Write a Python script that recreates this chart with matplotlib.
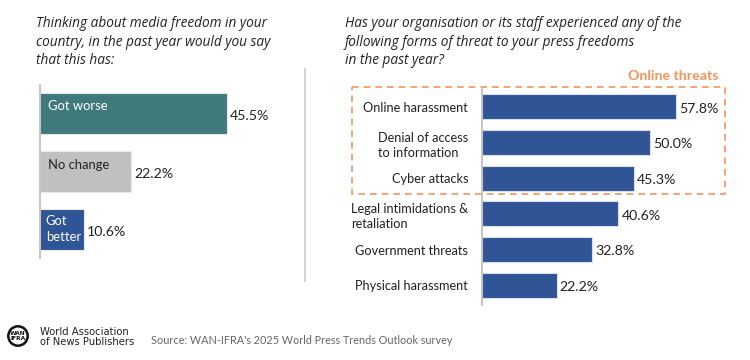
import matplotlib.pyplot as plt
from matplotlib.patches import Rectangle, Circle
from matplotlib.lines import Line2D

# left panel data
change_labels = ["Got worse", "No change", "Got\nbetter"]
change_values = [45.5, 22.2, 10.6]
change_colors = ["#3F797C", "#C0C0C0", "#2F5597"]
change_text_colors = ["white", "#222222", "white"]

# right panel data
threat_labels = ["Online harassment", "Denial of access\nto information", "Cyber attacks",
                 "Legal intimidations &\nretaliation", "Government threats", "Physical harassment"]
threat_values = [57.8, 50.0, 45.3, 40.6, 32.8, 22.2]
threat_color = "#2F5597"
orange = "#F4935C"

W, H = 750, 360
fig = plt.figure(figsize=(7.5, 3.6), dpi=100)

def fax(x0, y0, x1, y1):
    # pixel box (top-left origin) -> figure axes
    return fig.add_axes([x0 / W, 1 - y1 / H, (x1 - x0) / W, (y1 - y0) / H])

label_font = "Lato"
title_font = "Open Sans"
txt = "#222222"

# titles
fig.text(36 / W, 1 - 16 / H, "Thinking about media freedom in your\ncountry, in the past year would you say\nthat this has:",
         ha="left", va="top", fontsize=9.8, style="italic", family=title_font, color=txt, linespacing=1.33)
fig.text(345 / W, 1 - 16 / H, "Has your organisation or its staff experienced any of the\nfollowing forms of threat to your press freedoms\nin the past year?",
         ha="left", va="top", fontsize=9.8, style="italic", family=title_font, color=txt, linespacing=1.33)

# left chart
ax1 = fax(40, 85, 305, 258)
pos1 = range(len(change_values))
ax1.barh(pos1, change_values, height=0.71, color=change_colors, edgecolor="#E8E8E8", linewidth=0.8)
ax1.set_xlim(0, 64.5)
ax1.set_ylim(2.49, -0.49)
for i, (lab, v) in enumerate(zip(change_labels, change_values)):
    ax1.text(v + 0.8, i + 0.05, f"{v:.1f}%", ha="left", va="center", fontsize=10.2, family=label_font, color=txt)
    if "\n" in lab:
        ax1.text(1.4, i - 0.01, lab, ha="left", va="center", fontsize=9.4, family=label_font,
                 color=change_text_colors[i], linespacing=1.35)
    else:
        ax1.text(2, i - 0.12, lab, ha="left", va="center", fontsize=9.4, family=label_font,
                 color=change_text_colors[i])
for s in ["top", "right", "bottom"]:
    ax1.spines[s].set_visible(False)
ax1.spines["left"].set_color("#BBBBBB")
ax1.spines["left"].set_linewidth(1.2)
ax1.set_xticks([])
ax1.set_yticks([])

# divider
fig.add_artist(Line2D([305 / W, 305 / W], [1 - 69 / H, 1 - 281 / H], color="#CCCCCC", lw=1.2))

# right chart
ax2 = fax(482, 89, 735, 305)
pos2 = range(len(threat_values))
ax2.barh(pos2, threat_values, height=0.7, color=threat_color, edgecolor="#D8DEEA", linewidth=0.8)
ax2.set_xlim(0, 75.3)
ax2.set_ylim(5.55, -0.5)
for i, (lab, v) in enumerate(zip(threat_labels, threat_values)):
    ax2.text(v + 0.9, i + 0.05, f"{v:.1f}%", ha="left", va="center", fontsize=10.2, family=label_font, color=txt)
ax2.set_yticks(list(pos2))
ax2.set_yticklabels(threat_labels, fontsize=9.2, family=label_font, color=txt, linespacing=1.35)
ax2.tick_params(axis="y", length=0, pad=10)
for lbl in ax2.get_yticklabels():
    lbl.set_multialignment("left")
ax2.set_xticks([])
for s in ["top", "right", "bottom"]:
    ax2.spines[s].set_visible(False)
ax2.spines["left"].set_color("#BBBBBB")
ax2.spines["left"].set_linewidth(1.2)

# online threats box
box = Rectangle((-38.7, -0.55), 111.0, 3.0, fill=False, edgecolor=orange, lw=1.2,
                linestyle=(0, (4, 3)), clip_on=False)
ax2.add_patch(box)
fig.text(718 / W, 1 - 76 / H, "Online threats", ha="right", va="center", fontsize=10.2,
         weight="bold", family=label_font, color=orange)

# footer logo
lax = fax(7, 325, 29, 347)
lax.set_xlim(-1, 1)
lax.set_ylim(-1, 1)
lax.set_aspect("equal")
lax.axis("off")
lax.add_patch(Circle((0, 0), 0.88, fill=False, edgecolor="#111111", lw=1.8))
lax.text(0, 0, "WAN\nIFRA", ha="center", va="center", fontsize=4.2, weight="bold",
         family="DejaVu Sans", color="#111111", linespacing=0.9)
fig.text(40 / W, 1 - 337 / H, "World Association\nof News Publishers", ha="left", va="center",
         fontsize=7.2, family="DejaVu Sans", color="#222222", linespacing=0.95)
fig.text(151 / W, 1 - 340 / H, "Source: WAN-IFRA's 2025 World Press Trends Outlook survey", ha="left",
         va="center", fontsize=7.8, family=label_font, color="#666666")

fig.savefig("out.png", dpi=100, facecolor="white")
